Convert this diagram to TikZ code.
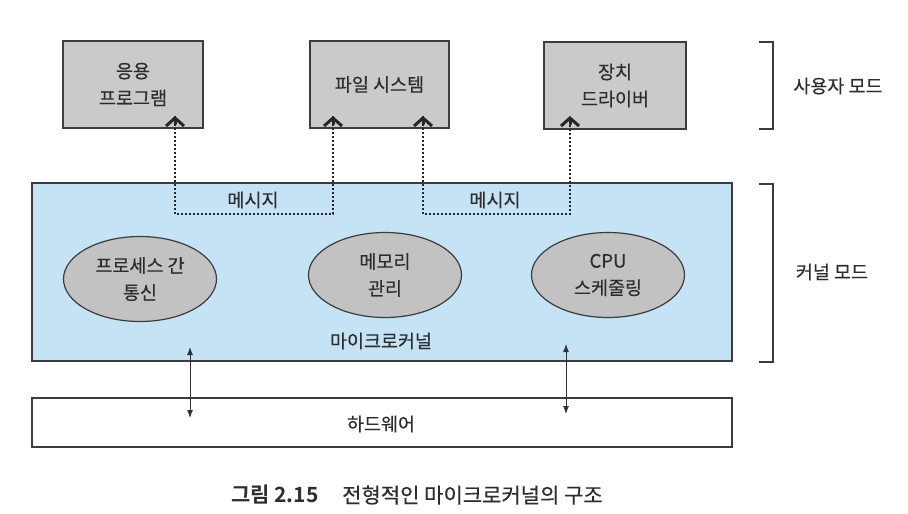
\documentclass[tikz,border=0pt]{standalone}
\usepackage{fontspec}
\setmainfont{Noto Sans CJK KR}[FakeBold=0.35]
\newfontfamily\capbold{Noto Sans CJK KR Bold}
\usetikzlibrary{arrows.meta,shapes.geometric,calc}
\definecolor{txt}{RGB}{45,45,45}
\definecolor{edge}{RGB}{60,60,60}
\definecolor{boxfill}{RGB}{202,202,202}
\definecolor{kfill}{RGB}{198,227,246}
\definecolor{efill}{RGB}{194,194,194}
\tikzset{
  every node/.style={text=txt, font=\fontsize{18.5}{27}\selectfont},
  userbox/.style={draw=edge, line width=1.3pt, fill=boxfill, minimum height=87pt, align=center, inner sep=0pt},
  kbox/.style={draw=edge, line width=1.3pt, fill=kfill, inner sep=0pt},
  hwbox/.style={draw=edge, line width=1.3pt, fill=white, inner sep=0pt},
  svc/.style={ellipse, draw=edge, line width=1.2pt, fill=efill, minimum width=153pt, minimum height=85pt, inner sep=0pt, align=center},
  msg/.style={draw=black!85, line width=2pt, dotted},
  msgtip/.style={draw=black!85, line width=3pt, solid, line cap=round, line join=miter, -{Straight Barb[length=8pt,width=18pt,line width=3pt]}},
  hwlink/.style={draw=black!80, line width=0.9pt, {Latex[length=8pt,width=6pt]}-{Latex[length=8pt,width=6pt]}},
  brace/.style={draw=edge, line width=1.3pt},
  lbl/.style={inner sep=0pt}
}
\begin{document}
\begin{tikzpicture}[x=1pt,y=-1pt]
\useasboundingbox (0,0) rectangle (908,514);
% kernel and hardware
\node[kbox, minimum width=700pt, minimum height=178pt] (kernel) at (382,272) {};
\node[hwbox, minimum width=700pt, minimum height=49pt] (hw) at (382,422.5) {};
\node[lbl] (hwtxt) at (381,424) {하드웨어};
\node[lbl] (mk) at (381,341) {마이크로커널};
% user boxes
\node[userbox, minimum width=140pt] (app) at (133,84.5) {응용\\프로그램};
\node[userbox, minimum width=139pt] (fs) at (379.5,84.5) {파일 시스템};
\node[userbox, minimum width=142pt] (drv) at (615,85.5) {장치\\드라이버};
% services
\node[svc] (ipc) at (140,279) {프로세스 간\\통신};
\node[svc] (mem) at (385,275) {메모리\\관리};
\node[svc] (cpu) at (608,275) {CPU\\스케줄링};
% message paths
\coordinate (m1a) at (175,116);
\coordinate (m1b) at (333,116);
\coordinate (m2a) at (423,116);
\coordinate (m2b) at (570,116);
\draw[msg] (m1a) -- (m1a |- 0,214) -- (m1b |- 0,214) -- (m1b);
\draw[msg] (m2a) -- (m2a |- 0,214) -- (m2b |- 0,214) -- (m2b);
\foreach \t in {m1a,m1b,m2a,m2b}{
  \draw[msgtip] ([yshift=-8pt]\t) -- (\t);
}
\node[lbl] (msg1) at (253,200) {메시지};
\node[lbl] (msg2) at (495,200) {메시지};
% hardware links
\coordinate (h1a) at (190,347);
\coordinate (h1b) at (190,418);
\coordinate (h2a) at (566,344);
\coordinate (h2b) at (566,414);
\draw[hwlink] (h1a) -- (h1b);
\draw[hwlink] (h2a) -- (h2b);
% brackets
\draw[brace] (759,42) -- (773,42) -- (773,129) -- (759,129);
\draw[brace] (759,184) -- (773,184) -- (773,362) -- (759,362);
\node[lbl] (umode) at (838,86) {사용자 모드};
\node[lbl] (kmode) at (832,272) {커널 모드};
% caption
\node[lbl, anchor=west, font=\fontsize{21}{24}\capbold] (capnum) at (231,495) {그림 2.15};
\node[lbl, anchor=west, font=\fontsize{21}{24}\selectfont] (captxt) at (342,495) {전형적인 마이크로커널의 구조};
\end{tikzpicture}
\end{document}
